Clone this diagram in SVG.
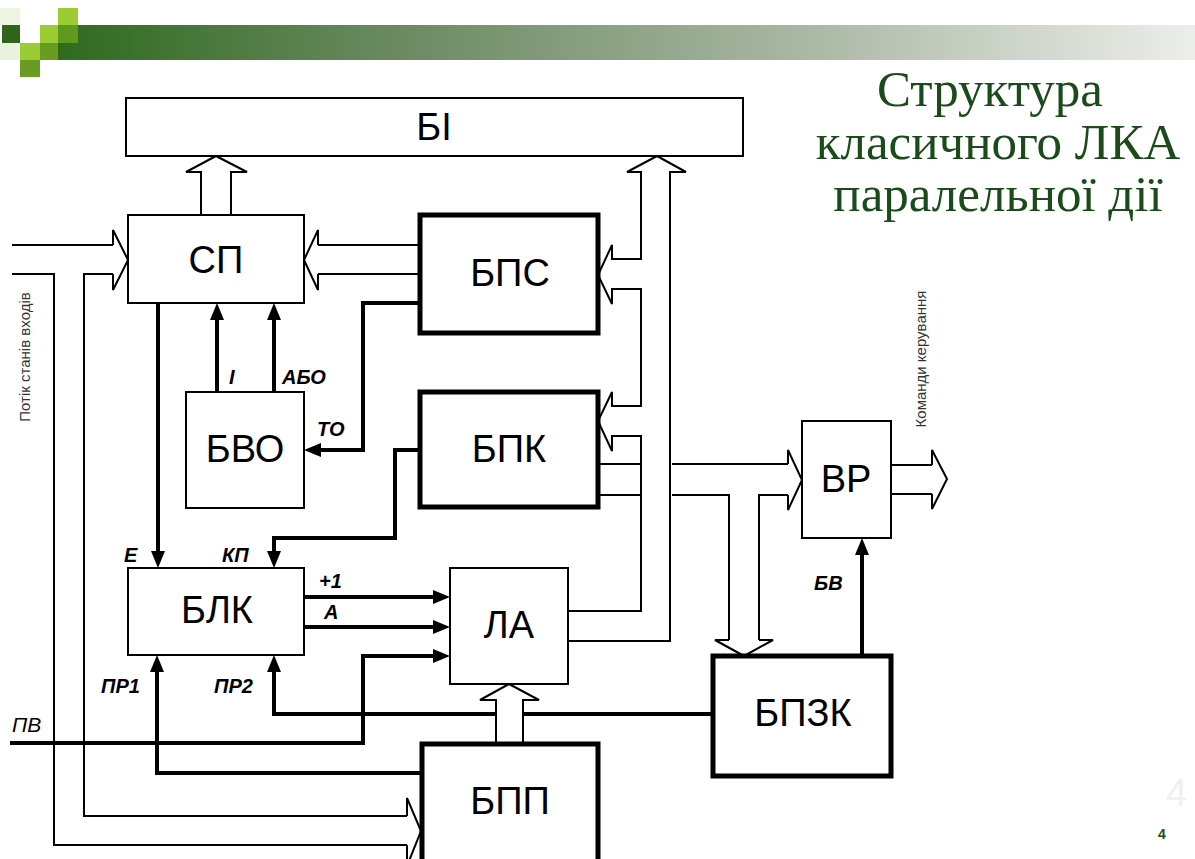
<svg xmlns="http://www.w3.org/2000/svg" width="1195" height="859" viewBox="0 0 1195 859">
<defs>
<linearGradient id="bar" x1="0" y1="0" x2="1" y2="0">
<stop offset="0" stop-color="#2f6a1f"/>
<stop offset="0.3" stop-color="#6c8a62"/>
<stop offset="0.65" stop-color="#a9b6a3"/>
<stop offset="1" stop-color="#eceeea"/>
</linearGradient>
<style>
.thin{fill:#fff;stroke:#000;stroke-width:2}
.thick{fill:#fff;stroke:#000;stroke-width:5}
.lbl{font-family:"Liberation Sans",Arial,sans-serif;font-size:38px;text-anchor:middle;fill:#000}
.bus{fill:none;stroke:#000;stroke-width:2;stroke-linejoin:miter}
.busw{fill:#fff;stroke:#000;stroke-width:2}
.sig{fill:none;stroke:#000;stroke-width:4}
.head{fill:#000;stroke:none}
.sl{font-family:"Liberation Sans",Arial,sans-serif;font-size:20px;font-style:italic;font-weight:bold;fill:#000}
.vt{font-family:"Liberation Sans",Arial,sans-serif;font-size:15px;fill:#333;text-anchor:middle}
.title{font-family:"Liberation Serif","Times New Roman",serif;font-size:51px;fill:#1b4a1b;text-anchor:middle}
</style>
</defs>
<rect width="1195" height="859" fill="#fff"/>
<g id="header">
<rect x="58" y="25" width="1137" height="35" fill="url(#bar)"/>
<rect x="0" y="8" width="20" height="17" fill="#eef4e2"/>
<rect x="58" y="8" width="20" height="17" fill="#9ccc34"/>
<rect x="2" y="25" width="18" height="18" fill="#2f6419"/>
<rect x="40" y="25" width="18" height="18" fill="#9ccc34"/>
<rect x="58" y="25" width="20" height="18" fill="#5f9a1e"/>
<rect x="0" y="43" width="20" height="17" fill="#eaf1de"/>
<rect x="20" y="43" width="20" height="17" fill="#9ccc34"/>
<rect x="40" y="43" width="18" height="17" fill="#6a9c22"/>
<rect x="20" y="60" width="20" height="17" fill="#6a9c22"/>
</g>
<g id="title">
<text class="title" x="990" y="106">Структура</text>
<text class="title" x="998" y="159">класичного ЛКА</text>
<text class="title" x="998" y="211">паралельної дії</text>
</g>
<g id="connectors">
<!-- input stream -->
<path class="bus" d="M12,245 H113 M113,274 H84 V816 H407 M12,274 H54 V845 H407"/>
<path class="busw" d="M113,245 V230 L128,260 L113,290 V274"/>
<path class="busw" d="M407,816 V798 L421,831 L407,866 V845"/>
<!-- BPS to SP -->
<path class="bus" d="M420,245 H318 M420,274 H318"/>
<path class="busw" d="M318,245 V230 L304,260 L318,290 V274"/>
<!-- SP to BI -->
<path class="busw" d="M201,215 V172 H186 L216,156 L247,172 H231 V215"/>
<!-- LA bus to BI with branches -->
<path class="bus" d="M568,611 H641 V436 H612 V451 L598,421 L612,392 V406 H641 V289 H612 V304 L598,275 L612,245 V259 H641 V172 H627 L657,156 L686,172 H670 V641 H568"/>
<!-- BPK bus to VR and BPZK -->
<path class="bus" d="M598,464 H641 M598,495 H641 M672,464 H788 M672,495 H729 V640 M759,640 V495 H788"/>
<path class="busw" d="M788,464 V450 L802,480 L788,510 V495"/>
<path class="busw" d="M729,640 H715 L744,656 L773,640 H759"/>
<!-- VR out -->
<path class="bus" d="M891,465 H932 M891,494 H932"/>
<path class="busw" d="M932,465 V450 L947,479 L932,509 V494"/>
<!-- signal lines -->
<path class="sig" d="M158,303 V553"/>
<polygon class="head" points="151,551 165,551 158,568"/>
<path class="sig" d="M217,392 V318"/>
<polygon class="head" points="210,320 224,320 217,303"/>
<path class="sig" d="M274,392 V318"/>
<polygon class="head" points="267,320 281,320 274,303"/>
<path class="sig" d="M420,303 H363 V450 H318"/>
<polygon class="head" points="321,443 321,457 304,450"/>
<path class="sig" d="M420,450 H395 V538 H274 V553"/>
<polygon class="head" points="267,551 281,551 274,568"/>
<path class="sig" d="M304,597 H435"/>
<polygon class="head" points="433,590 433,604 450,597"/>
<path class="sig" d="M304,627 H435"/>
<polygon class="head" points="433,620 433,634 450,627"/>
<path class="sig" d="M10,743 H363 V656 H435"/>
<polygon class="head" points="433,649 433,663 450,656"/>
<path class="sig" d="M422,773 H157 V670"/>
<polygon class="head" points="150,672 164,672 157,655"/>
<path class="sig" d="M713,714 H274 V670"/>
<polygon class="head" points="267,672 281,672 274,655"/>
<path class="sig" d="M862,656 V553"/>
<polygon class="head" points="855,555 869,555 862,538"/>
<!-- BPP to LA (drawn over PR2 line) -->
<path class="busw" d="M496,744 V700 H480 L509,684 L539,700 H523 V744"/>
</g>
<g id="node-BI"><rect class="thin" x="126" y="98" width="617" height="58"/><text class="lbl" x="434" y="140">БІ</text></g>
<g id="node-SP"><rect class="thin" x="128" y="215" width="176" height="88"/><text class="lbl" x="216" y="273">СП</text></g>
<g id="node-BPS"><rect class="thick" x="420" y="215" width="178" height="118"/><text class="lbl" x="510" y="286">БПС</text></g>
<g id="node-BVO"><rect class="thin" x="186" y="392" width="118" height="116"/><text class="lbl" x="245" y="462">БВО</text></g>
<g id="node-BPK"><rect class="thick" x="420" y="392" width="178" height="115"/><text class="lbl" x="509" y="462">БПК</text></g>
<g id="node-BLK"><rect class="thin" x="128" y="568" width="176" height="87"/><text class="lbl" x="217" y="623">БЛК</text></g>
<g id="node-LA"><rect class="thin" x="450" y="568" width="118" height="116"/><text class="lbl" x="509" y="638">ЛА</text></g>
<g id="node-VR"><rect class="thin" x="802" y="421" width="89" height="117"/><text class="lbl" x="846" y="492">ВР</text></g>
<g id="node-BPZK"><rect class="thick" x="713" y="656" width="178" height="120"/><text class="lbl" x="803" y="726">БПЗК</text></g>
<g id="node-BPP"><rect class="thick" x="422" y="744" width="176" height="130"/><text class="lbl" x="510" y="814">БПП</text></g>
<g id="labels">
<text class="sl" x="124" y="562">Е</text>
<text class="sl" x="222" y="562">КП</text>
<text class="sl" x="229" y="384">І</text>
<text class="sl" x="282" y="384">АБО</text>
<text class="sl" x="317" y="436">ТО</text>
<text class="sl" x="319" y="588">+1</text>
<text class="sl" x="324" y="619">А</text>
<text class="sl" x="101" y="693">ПР1</text>
<text class="sl" x="214" y="693">ПР2</text>
<text class="sl" x="814" y="590">БВ</text>
<text x="12" y="732" style="font-family:'Liberation Sans',Arial,sans-serif;font-size:21px;font-style:italic;fill:#000">ПВ</text>
<text class="vt" transform="translate(30,357) rotate(-90)">Потік станів входів</text>
<text class="vt" transform="translate(926,359) rotate(-90)">Команди керування</text>
<text x="1158" y="839" style="font-family:'Liberation Sans',Arial,sans-serif;font-size:14px;font-weight:bold;fill:#1b4a1b">4</text>
<text x="1166" y="806" style="font-family:'Liberation Sans',Arial,sans-serif;font-size:38px;fill:#f0f0f0">4</text>
</g>
</svg>
